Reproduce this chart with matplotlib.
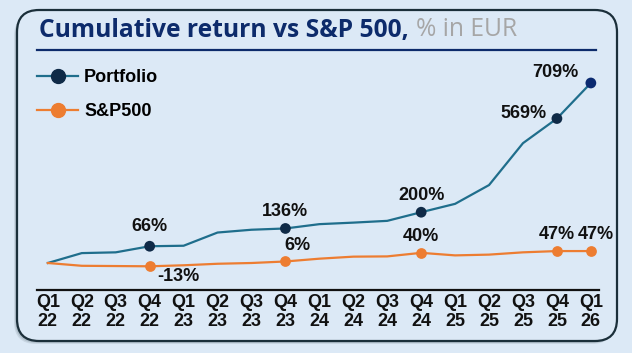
import matplotlib
matplotlib.use("Agg")
import matplotlib.pyplot as plt
from matplotlib.patches import FancyBboxPatch
from matplotlib.lines import Line2D
import numpy as np

quarters = ["Q1\n22", "Q2\n22", "Q3\n22", "Q4\n22", "Q1\n23", "Q2\n23", "Q3\n23", "Q4\n23",
            "Q1\n24", "Q2\n24", "Q3\n24", "Q4\n24", "Q1\n25", "Q2\n25", "Q3\n25", "Q4\n25", "Q1\n26"]
portfolio = [0, 39, 42, 66, 68, 120, 131, 136, 153, 159, 166, 200, 233, 307, 472, 569, 709]
sp500 = [0, -11, -12, -13, -9, -3, 0, 6, 17, 25, 26, 40, 30, 33, 42, 47, 47]

# labelled points: index -> (dx px, dy px, ha)
port_labels = {3: (0, 20, "center"), 7: (0, 17, "center"), 11: (0, 17, "center"),
               15: (-10, 5, "right"), 16: (-35, 10, "center")}
sp_labels = {3: (29, -10, "center"), 7: (12, 16, "center"), 11: (0, 16, "center"),
             15: (0, 17, "center"), 16: (5, 17, "center")}

BG = "#dce9f6"
NAVY = "#0d2b6b"
TEAL = "#1f6e8c"
DARK = "#0f2a47"
ORANGE = "#ed7d31"

W, H = 632, 353
fig = plt.figure(figsize=(W / 100, H / 100), dpi=100, facecolor=BG)

def fx(px):
    return px / W

def fy(py):
    return 1 - py / H

# shadow + panel
for i, a in enumerate([0.10, 0.12, 0.15]):
    off = 3 - i
    sh = FancyBboxPatch((fx(17 - off), fy(341 + off)), fx(600), (330) / H,
                        boxstyle="round,pad=0,rounding_size=0.035",
                        transform=fig.transFigure, facecolor="#1b2f3a", edgecolor="none",
                        alpha=a, zorder=0, mutation_aspect=W / H)
    fig.patches.append(sh)
panel = FancyBboxPatch((fx(17), fy(341)), fx(600), 331 / H,
                       boxstyle="round,pad=0,rounding_size=0.035",
                       transform=fig.transFigure, facecolor=BG, edgecolor="#1b2f3a",
                       linewidth=1.6, zorder=1, mutation_aspect=W / H)
fig.patches.append(panel)

# title (font size fitted to the reference width)
TITLE_FONT = "Open Sans"
t1 = fig.text(fx(39), fy(30), "Cumulative return vs S&P 500,", fontsize=16, fontweight="bold",
              family=TITLE_FONT, color=NAVY, va="center", ha="left", zorder=3)
fig.canvas.draw()
r = fig.canvas.get_renderer()
bb = t1.get_window_extent(r)
fs = 16 * 369 / bb.width
t1.set_fontsize(fs)
fig.canvas.draw()
bb = t1.get_window_extent(r)
fig.text(bb.x1 / W + fx(7), fy(30), "% in EUR", fontsize=fs, family=TITLE_FONT,
         color="#a6a6a6", va="center", ha="left", zorder=3)
fig.add_artist(Line2D([fx(37), fx(596)], [fy(50), fy(50)], transform=fig.transFigure,
                      color=NAVY, linewidth=1.6, zorder=3))

# axes
ax = fig.add_axes([fx(37), fy(290), fx(599) - fx(37), (290 - 55) / H], zorder=4)
ax.set_facecolor("none")
x = np.arange(len(quarters))
scale = 0.2539  # px per %
ax.set_xlim(-0.32, len(quarters) - 1 + 0.24)
ax.set_ylim(-(290 - 263) / scale, (263 - 55) / scale)

ax.plot(x, portfolio, color=TEAL, linewidth=1.6, zorder=3)
ax.plot(x, sp500, color=ORANGE, linewidth=1.6, zorder=3)

pi = sorted(port_labels)
pcolors = [DARK] * (len(pi) - 1) + ["#0b2a70"]
ax.scatter([x[i] for i in pi], [portfolio[i] for i in pi], s=60, color=pcolors, zorder=5,
           linewidths=0)
si = sorted(sp_labels)
ax.scatter([x[i] for i in si], [sp500[i] for i in si], s=60, color=ORANGE, zorder=5,
           linewidths=0)

lab_kw = dict(fontsize=13, fontweight="bold", family="Liberation Sans", color="#111111",
              textcoords="offset points", va="center", zorder=6)
for i, (dx, dy, ha) in port_labels.items():
    ax.annotate(f"{portfolio[i]}%", (x[i], portfolio[i]), xytext=(dx * 0.72, dy * 0.72),
                ha=ha, **lab_kw)
for i, (dx, dy, ha) in sp_labels.items():
    ax.annotate(f"{sp500[i]}%", (x[i], sp500[i]), xytext=(dx * 0.72, dy * 0.72),
                ha=ha, **lab_kw)

for s in ["top", "right", "left"]:
    ax.spines[s].set_visible(False)
ax.spines["bottom"].set_color("#111111")
ax.spines["bottom"].set_linewidth(1.6)
ax.set_yticks([])
ax.set_xticks(x)
ax.set_xticklabels(quarters, fontsize=13, fontweight="bold", family="Liberation Sans",
                   color="#111111", linespacing=1.12)
ax.tick_params(axis="x", length=0, pad=3)

handles = [Line2D([], [], color=TEAL, linewidth=1.6, marker="o", markersize=10,
                  markerfacecolor=DARK, markeredgecolor=DARK),
           Line2D([], [], color=ORANGE, linewidth=1.6, marker="o", markersize=10,
                  markerfacecolor=ORANGE, markeredgecolor=ORANGE)]
leg = fig.legend(handles, ["Portfolio", "S&P500"], loc="upper left",
                 bbox_to_anchor=(fx(37), fy(69)), frameon=False,
                 prop=dict(family="Liberation Sans", weight="bold", size=13),
                 handlelength=2.28, handletextpad=0.33, labelspacing=0.95,
                 borderaxespad=0, borderpad=0)
leg.set_zorder(6)

fig.savefig("out.png", dpi=100, facecolor=BG)
